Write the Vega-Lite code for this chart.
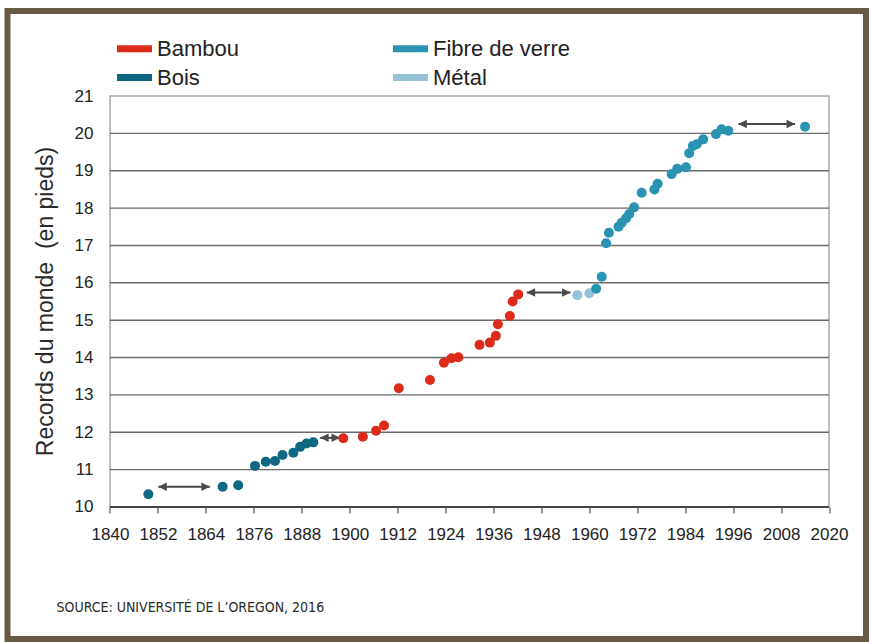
{
  "$schema": "https://vega.github.io/schema/vega-lite/v6.json",
  "width": 858.5,
  "height": 628,
  "autosize": {"type": "none"},
  "padding": {"left": 7.5, "top": 11, "right": 3, "bottom": 3},
  "background": "white",
  "config": {
    "view": {"stroke": "#675b45", "strokeWidth": 6, "fill": "white"},
    "font": "Liberation Sans"
  },
  "datasets": {
    "records": [
      {"year": 1849.6, "value": 10.34, "material": "Bois"},
      {"year": 1868.2, "value": 10.54, "material": "Bois"},
      {"year": 1872.1, "value": 10.58, "material": "Bois"},
      {"year": 1876.3, "value": 11.10, "material": "Bois"},
      {"year": 1879.0, "value": 11.21, "material": "Bois"},
      {"year": 1881.3, "value": 11.23, "material": "Bois"},
      {"year": 1883.2, "value": 11.39, "material": "Bois"},
      {"year": 1885.9, "value": 11.45, "material": "Bois"},
      {"year": 1887.6, "value": 11.61, "material": "Bois"},
      {"year": 1889.2, "value": 11.70, "material": "Bois"},
      {"year": 1890.9, "value": 11.73, "material": "Bois"},
      {"year": 1898.4, "value": 11.84, "material": "Bambou"},
      {"year": 1903.3, "value": 11.88, "material": "Bambou"},
      {"year": 1906.6, "value": 12.04, "material": "Bambou"},
      {"year": 1908.6, "value": 12.18, "material": "Bambou"},
      {"year": 1912.3, "value": 13.18, "material": "Bambou"},
      {"year": 1920.1, "value": 13.40, "material": "Bambou"},
      {"year": 1923.6, "value": 13.86, "material": "Bambou"},
      {"year": 1925.5, "value": 13.98, "material": "Bambou"},
      {"year": 1927.2, "value": 14.01, "material": "Bambou"},
      {"year": 1932.5, "value": 14.34, "material": "Bambou"},
      {"year": 1935.1, "value": 14.40, "material": "Bambou"},
      {"year": 1936.6, "value": 14.58, "material": "Bambou"},
      {"year": 1937.1, "value": 14.89, "material": "Bambou"},
      {"year": 1940.1, "value": 15.11, "material": "Bambou"},
      {"year": 1940.8, "value": 15.50, "material": "Bambou"},
      {"year": 1942.2, "value": 15.69, "material": "Bambou"},
      {"year": 1957.0, "value": 15.67, "material": "Métal"},
      {"year": 1960.0, "value": 15.72, "material": "Métal"},
      {"year": 1961.7, "value": 15.84, "material": "Fibre de verre"},
      {"year": 1963.1, "value": 16.16, "material": "Fibre de verre"},
      {"year": 1964.2, "value": 17.06, "material": "Fibre de verre"},
      {"year": 1964.9, "value": 17.34, "material": "Fibre de verre"},
      {"year": 1967.3, "value": 17.50, "material": "Fibre de verre"},
      {"year": 1968.1, "value": 17.61, "material": "Fibre de verre"},
      {"year": 1969.2, "value": 17.73, "material": "Fibre de verre"},
      {"year": 1970.0, "value": 17.84, "material": "Fibre de verre"},
      {"year": 1971.2, "value": 18.02, "material": "Fibre de verre"},
      {"year": 1973.1, "value": 18.41, "material": "Fibre de verre"},
      {"year": 1976.3, "value": 18.50, "material": "Fibre de verre"},
      {"year": 1977.1, "value": 18.65, "material": "Fibre de verre"},
      {"year": 1980.6, "value": 18.91, "material": "Fibre de verre"},
      {"year": 1982.0, "value": 19.05, "material": "Fibre de verre"},
      {"year": 1984.2, "value": 19.09, "material": "Fibre de verre"},
      {"year": 1985.0, "value": 19.47, "material": "Fibre de verre"},
      {"year": 1985.9, "value": 19.66, "material": "Fibre de verre"},
      {"year": 1986.9, "value": 19.71, "material": "Fibre de verre"},
      {"year": 1988.5, "value": 19.84, "material": "Fibre de verre"},
      {"year": 1991.7, "value": 19.98, "material": "Fibre de verre"},
      {"year": 1993.1, "value": 20.11, "material": "Fibre de verre"},
      {"year": 1994.8, "value": 20.07, "material": "Fibre de verre"},
      {"year": 2014.0, "value": 20.18, "material": "Fibre de verre"}
    ],
    "arrows": [
      {"start": 1852.1, "end": 1865.0, "value": 10.54},
      {"start": 1892.6, "end": 1897.6, "value": 11.85},
      {"start": 1944.3, "end": 1955.3, "value": 15.74},
      {"start": 1997.3, "end": 2011.5, "value": 20.25}
    ],
    "grid": [
      {"value": 11, "from": 1840, "to": 2020},
      {"value": 12, "from": 1840, "to": 2020},
      {"value": 13, "from": 1840, "to": 2020},
      {"value": 14, "from": 1840, "to": 2020},
      {"value": 15, "from": 1840, "to": 2020},
      {"value": 16, "from": 1840, "to": 2020},
      {"value": 17, "from": 1840, "to": 2020},
      {"value": 18, "from": 1840, "to": 2020},
      {"value": 19, "from": 1840, "to": 2020},
      {"value": 20, "from": 1840, "to": 2020}
    ],
    "frame": [
      {"from": 1840, "to": 2020, "low": 10, "high": 21}
    ],
    "baseline": [
      {"value": 10, "from": 1840, "to": 2020}
    ]
  },
  "layer": [
    {
      "data": {"name": "frame"},
      "mark": {"type": "rect", "fill": null, "stroke": "#a8a8a8", "strokeWidth": 1.5},
      "encoding": {
        "x": {
          "field": "from", "type": "quantitative",
          "scale": {"domain": [1814.34, 2029.26], "nice": false, "zero": false},
          "axis": {
            "values": [1840, 1852, 1864, 1876, 1888, 1900, 1912, 1924, 1936, 1948, 1960, 1972, 1984, 1996, 2008, 2020],
            "format": "d",
            "offset": -132,
            "domain": false,
            "grid": false,
            "ticks": true,
            "tickSize": 6,
            "tickColor": "#555555",
            "tickWidth": 1.2,
            "labelFontSize": 17,
            "labelColor": "#222222",
            "labelPadding": 13,
            "labelFlush": false,
            "labelOverlap": false,
            "title": "SOURCE: UNIVERSITÉ DE L’OREGON, 2016",
            "titleFont": "Liberation Sans Narrow, DejaVu Sans Condensed, Liberation Sans",
            "titleFontSize": 14,
            "titleFontWeight": "normal",
            "titleColor": "#2a2a2a",
            "titleAnchor": "start",
            "titleAlign": "left",
            "titleBaseline": "alphabetic",
            "titleX": 48.5,
            "titleY": 104
          }
        },
        "x2": {"field": "to"},
        "y": {
          "field": "low", "type": "quantitative",
          "scale": {"domain": [6.467, 23.275], "nice": false, "zero": false},
          "axis": {
            "values": [10, 11, 12, 13, 14, 15, 16, 17, 18, 19, 20, 21],
            "offset": -102.5,
            "domain": false,
            "grid": false,
            "ticks": false,
            "labelFontSize": 17,
            "labelColor": "#222222",
            "labelPadding": 17,
            "title": "Records du monde\u00a0 (en pieds)",
            "titleFontSize": 23,
            "titleFontWeight": "normal",
            "titleColor": "#2a2a2a",
            "titleAlign": "center",
            "titleBaseline": "middle",
            "titleAngle": -90,
            "titleX": -64.5,
            "titleY": 290
          }
        },
        "y2": {"field": "high"}
      }
    },
    {
      "data": {"name": "grid"},
      "mark": {"type": "rule", "color": "#6a6a6a", "strokeWidth": 1.4},
      "encoding": {
        "x": {"field": "from", "type": "quantitative"},
        "x2": {"field": "to"},
        "y": {"field": "value", "type": "quantitative"}
      }
    },
    {
      "data": {"name": "baseline"},
      "mark": {"type": "rule", "color": "#444444", "strokeWidth": 1.8},
      "encoding": {
        "x": {"field": "from", "type": "quantitative"},
        "x2": {"field": "to"},
        "y": {"field": "value", "type": "quantitative"}
      }
    },
    {
      "data": {"name": "arrows"},
      "mark": {"type": "rule", "color": "#4a4a4a", "strokeWidth": 2},
      "encoding": {
        "x": {"field": "start", "type": "quantitative"},
        "x2": {"field": "end"},
        "y": {"field": "value", "type": "quantitative"}
      }
    },
    {
      "data": {"name": "arrows"},
      "mark": {"type": "point", "shape": "M0,0L1.7,-0.85L1.7,0.85Z", "filled": true, "color": "#4a4a4a", "opacity": 1, "size": 100},
      "encoding": {
        "x": {"field": "start", "type": "quantitative"},
        "y": {"field": "value", "type": "quantitative"}
      }
    },
    {
      "data": {"name": "arrows"},
      "mark": {"type": "point", "shape": "M0,0L-1.7,-0.85L-1.7,0.85Z", "filled": true, "color": "#4a4a4a", "opacity": 1, "size": 100},
      "encoding": {
        "x": {"field": "end", "type": "quantitative"},
        "y": {"field": "value", "type": "quantitative"}
      }
    },
    {
      "data": {"name": "records"},
      "mark": {"type": "point", "shape": "circle", "filled": true, "opacity": 1, "size": 100},
      "encoding": {
        "x": {"field": "year", "type": "quantitative"},
        "y": {"field": "value", "type": "quantitative"},
        "color": {
          "field": "material", "type": "nominal",
          "scale": {
            "domain": ["Bambou", "Bois", "Fibre de verre", "Métal"],
            "range": ["#dc2a1b", "#0f6883", "#2a93b2", "#97c2d5"]
          },
          "legend": {
            "title": null,
            "orient": "none",
            "legendX": 109.5,
            "legendY": 20,
            "columns": 2,
            "columnPadding": 154,
            "rowPadding": 0,
            "symbolType": "M-1,-0.2L1,-0.2L1,0.2L-1,0.2Z",
            "symbolSize": 1225,
            "symbolStrokeWidth": 0,
            "symbolOpacity": 1,
            "labelFontSize": 22,
            "labelColor": "#222222",
            "labelOffset": 5,
            "labelLimit": 300
          }
        }
      }
    }
  ]
}
